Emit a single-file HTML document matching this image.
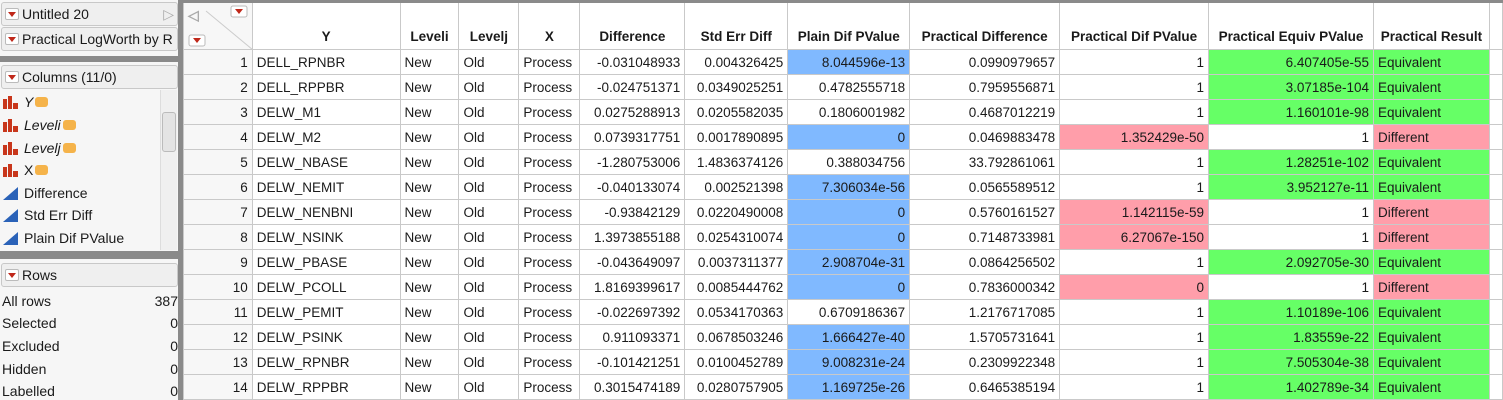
<!DOCTYPE html>
<html><head><meta charset="utf-8"><style>
*{box-sizing:border-box;margin:0;padding:0}
body{width:1503px;height:400px;overflow:hidden;background:#fff;font-family:"Liberation Sans",sans-serif;font-size:13.5px;color:#1a1a1a;position:relative}
.lp{position:absolute;left:0;top:0;width:183px;height:400px;background:#f6f6f6}
.box{position:absolute;left:1px;width:177px;height:24px;border:1px solid #c8c8c8;border-radius:3px;background:#efefef;padding-left:20px;line-height:22px;font-size:14px;white-space:nowrap;overflow:hidden}
.tri{position:absolute;left:3px;top:5px;width:14px;height:12px;border:1px solid #bbb;border-radius:2px;background:#fff}
.tri:after{content:"";position:absolute;left:2px;top:3px;border-left:4px solid transparent;border-right:4px solid transparent;border-top:5px solid #c0281a}
.sep{position:absolute;left:0;width:183px;background:#8a8a8a}
.it{position:absolute;left:24px;font-size:14px}
.ico{position:absolute;left:3px;width:16px;height:13px}
.rw{position:absolute;left:2px;width:176px;font-size:14px}
.rw span{float:right}
table{position:absolute;left:183px;top:0;border-collapse:collapse;table-layout:fixed}
td,th{border:1px solid #c9c9c9;height:25px;padding:0 4px;white-space:nowrap;overflow:hidden;font-size:13.5px}
th{height:48px;vertical-align:bottom;padding-bottom:5px;font-weight:bold;text-align:center;border-top:3px solid #8a8a8a}
.r{text-align:right}
.b{background:#80b9ff}.g{background:#66ff66}.p{background:#ff9eaa}
.n{text-align:right;background:#f7f7f7}
</style></head><body>
<div class="lp">
<div class="box" style="top:2px"><div class="tri"></div>Untitled 20<span style="position:absolute;right:3px;top:0;color:#aaa">▷</span></div>
<div class="box" style="top:27px"><div class="tri"></div>Practical LogWorth by R</div>
<div class="sep" style="top:56px;height:6px"></div>
<div class="box" style="top:65px"><div class="tri"></div>Columns (11/0)</div>
<div style="position:absolute;left:160px;top:90px;width:17px;height:160px;background:#f0f0f0;border-left:1px solid #ddd"><div style="position:absolute;left:1px;top:22px;width:14px;height:40px;background:#e4e4e4;border:1px solid #bbb;border-radius:3px"></div></div>
<svg class="ico" style="top:96px" viewBox="0 0 16 13"><rect x="0" y="3" width="4" height="10" fill="#c8361b"/><rect x="5" y="0" width="4" height="13" fill="#c8361b"/><rect x="10" y="7" width="5" height="6" fill="#c8361b"/></svg><div class="it" style="top:94px;font-style:italic">Y<span style="display:inline-block;width:13px;height:10px;background:#f5b34a;border-radius:3px;margin-left:2px"></span></div>
<svg class="ico" style="top:119px" viewBox="0 0 16 13"><rect x="0" y="3" width="4" height="10" fill="#c8361b"/><rect x="5" y="0" width="4" height="13" fill="#c8361b"/><rect x="10" y="7" width="5" height="6" fill="#c8361b"/></svg><div class="it" style="top:117px;font-style:italic">Leveli<span style="display:inline-block;width:13px;height:10px;background:#f5b34a;border-radius:3px;margin-left:2px"></span></div>
<svg class="ico" style="top:142px" viewBox="0 0 16 13"><rect x="0" y="3" width="4" height="10" fill="#c8361b"/><rect x="5" y="0" width="4" height="13" fill="#c8361b"/><rect x="10" y="7" width="5" height="6" fill="#c8361b"/></svg><div class="it" style="top:140px;font-style:italic">Levelj<span style="display:inline-block;width:13px;height:10px;background:#f5b34a;border-radius:3px;margin-left:2px"></span></div>
<svg class="ico" style="top:164px" viewBox="0 0 16 13"><rect x="0" y="3" width="4" height="10" fill="#c8361b"/><rect x="5" y="0" width="4" height="13" fill="#c8361b"/><rect x="10" y="7" width="5" height="6" fill="#c8361b"/></svg><div class="it" style="top:162px">X<span style="display:inline-block;width:13px;height:10px;background:#f5b34a;border-radius:3px;margin-left:2px"></span></div>
<svg class="ico" style="top:187px" viewBox="0 0 16 13"><polygon points="0,13 15,0 15,13" fill="#2a62b8"/></svg><div class="it" style="top:185px">Difference</div>
<svg class="ico" style="top:209px" viewBox="0 0 16 13"><polygon points="0,13 15,0 15,13" fill="#2a62b8"/></svg><div class="it" style="top:207px">Std Err Diff</div>
<svg class="ico" style="top:232px" viewBox="0 0 16 13"><polygon points="0,13 15,0 15,13" fill="#2a62b8"/></svg><div class="it" style="top:230px">Plain Dif PValue</div>
<div class="sep" style="top:251px;height:8px"></div>
<div class="box" style="top:263px"><div class="tri"></div>Rows</div>
<div class="rw" style="top:293px">All rows<span>387</span></div>
<div class="rw" style="top:315px">Selected<span>0</span></div>
<div class="rw" style="top:338px">Excluded<span>0</span></div>
<div class="rw" style="top:361px">Hidden<span>0</span></div>
<div class="rw" style="top:383px">Labelled<span>0</span></div>
</div>
<div style="position:absolute;left:178px;top:0;width:5px;height:400px;background:#8a8a8a"></div>
<table>
<colgroup><col style="width:69px"><col style="width:148px"><col style="width:59px"><col style="width:60px"><col style="width:61px"><col style="width:105px"><col style="width:103px"><col style="width:122px"><col style="width:150px"><col style="width:149px"><col style="width:165px"><col style="width:116px"><col style="width:13px"></colgroup>
<tr><th style="background:#f7f7f7;position:relative"><svg style="position:absolute;left:0;top:0" width="69" height="47"><text x="4" y="17" fill="#aaa" font-size="14">◁</text><line x1="22" y1="8" x2="69" y2="47" stroke="#ccc"/><rect x="47" y="3" width="16" height="11" rx="2" fill="#fff" stroke="#bbb"/><polygon points="51,6 59,6 55,11" fill="#c0281a"/><rect x="5" y="32" width="16" height="11" rx="2" fill="#fff" stroke="#bbb"/><polygon points="9,35 17,35 13,40" fill="#c0281a"/></svg></th><th>Y</th><th>Leveli</th><th>Levelj</th><th>X</th><th>Difference</th><th>Std Err Diff</th><th>Plain Dif PValue</th><th>Practical Difference</th><th>Practical Dif PValue</th><th>Practical Equiv PValue</th><th>Practical Result</th><th></th></tr>
<tr><td class="n">1</td><td>DELL_RPNBR</td><td>New</td><td>Old</td><td>Process</td><td class="r">-0.031048933</td><td class="r">0.004326425</td><td class="r b">8.044596e-13</td><td class="r">0.0990979657</td><td class="r">1</td><td class="r g">6.407405e-55</td><td class="g">Equivalent</td><td></td></tr>
<tr><td class="n">2</td><td>DELL_RPPBR</td><td>New</td><td>Old</td><td>Process</td><td class="r">-0.024751371</td><td class="r">0.0349025251</td><td class="r">0.4782555718</td><td class="r">0.7959556871</td><td class="r">1</td><td class="r g">3.07185e-104</td><td class="g">Equivalent</td><td></td></tr>
<tr><td class="n">3</td><td>DELW_M1</td><td>New</td><td>Old</td><td>Process</td><td class="r">0.0275288913</td><td class="r">0.0205582035</td><td class="r">0.1806001982</td><td class="r">0.4687012219</td><td class="r">1</td><td class="r g">1.160101e-98</td><td class="g">Equivalent</td><td></td></tr>
<tr><td class="n">4</td><td>DELW_M2</td><td>New</td><td>Old</td><td>Process</td><td class="r">0.0739317751</td><td class="r">0.0017890895</td><td class="r b">0</td><td class="r">0.0469883478</td><td class="r p">1.352429e-50</td><td class="r">1</td><td class="p">Different</td><td></td></tr>
<tr><td class="n">5</td><td>DELW_NBASE</td><td>New</td><td>Old</td><td>Process</td><td class="r">-1.280753006</td><td class="r">1.4836374126</td><td class="r">0.388034756</td><td class="r">33.792861061</td><td class="r">1</td><td class="r g">1.28251e-102</td><td class="g">Equivalent</td><td></td></tr>
<tr><td class="n">6</td><td>DELW_NEMIT</td><td>New</td><td>Old</td><td>Process</td><td class="r">-0.040133074</td><td class="r">0.002521398</td><td class="r b">7.306034e-56</td><td class="r">0.0565589512</td><td class="r">1</td><td class="r g">3.952127e-11</td><td class="g">Equivalent</td><td></td></tr>
<tr><td class="n">7</td><td>DELW_NENBNI</td><td>New</td><td>Old</td><td>Process</td><td class="r">-0.93842129</td><td class="r">0.0220490008</td><td class="r b">0</td><td class="r">0.5760161527</td><td class="r p">1.142115e-59</td><td class="r">1</td><td class="p">Different</td><td></td></tr>
<tr><td class="n">8</td><td>DELW_NSINK</td><td>New</td><td>Old</td><td>Process</td><td class="r">1.3973855188</td><td class="r">0.0254310074</td><td class="r b">0</td><td class="r">0.7148733981</td><td class="r p">6.27067e-150</td><td class="r">1</td><td class="p">Different</td><td></td></tr>
<tr><td class="n">9</td><td>DELW_PBASE</td><td>New</td><td>Old</td><td>Process</td><td class="r">-0.043649097</td><td class="r">0.0037311377</td><td class="r b">2.908704e-31</td><td class="r">0.0864256502</td><td class="r">1</td><td class="r g">2.092705e-30</td><td class="g">Equivalent</td><td></td></tr>
<tr><td class="n">10</td><td>DELW_PCOLL</td><td>New</td><td>Old</td><td>Process</td><td class="r">1.8169399617</td><td class="r">0.0085444762</td><td class="r b">0</td><td class="r">0.7836000342</td><td class="r p">0</td><td class="r">1</td><td class="p">Different</td><td></td></tr>
<tr><td class="n">11</td><td>DELW_PEMIT</td><td>New</td><td>Old</td><td>Process</td><td class="r">-0.022697392</td><td class="r">0.0534170363</td><td class="r">0.6709186367</td><td class="r">1.2176717085</td><td class="r">1</td><td class="r g">1.10189e-106</td><td class="g">Equivalent</td><td></td></tr>
<tr><td class="n">12</td><td>DELW_PSINK</td><td>New</td><td>Old</td><td>Process</td><td class="r">0.911093371</td><td class="r">0.0678503246</td><td class="r b">1.666427e-40</td><td class="r">1.5705731641</td><td class="r">1</td><td class="r g">1.83559e-22</td><td class="g">Equivalent</td><td></td></tr>
<tr><td class="n">13</td><td>DELW_RPNBR</td><td>New</td><td>Old</td><td>Process</td><td class="r">-0.101421251</td><td class="r">0.0100452789</td><td class="r b">9.008231e-24</td><td class="r">0.2309922348</td><td class="r">1</td><td class="r g">7.505304e-38</td><td class="g">Equivalent</td><td></td></tr>
<tr><td class="n">14</td><td>DELW_RPPBR</td><td>New</td><td>Old</td><td>Process</td><td class="r">0.3015474189</td><td class="r">0.0280757905</td><td class="r b">1.169725e-26</td><td class="r">0.6465385194</td><td class="r">1</td><td class="r g">1.402789e-34</td><td class="g">Equivalent</td><td></td></tr>
</table>
</body></html>
